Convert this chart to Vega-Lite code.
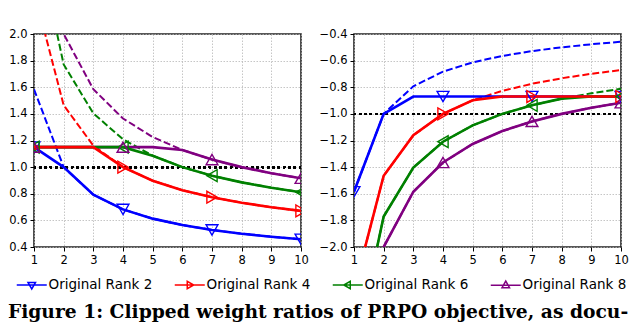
{
  "$schema": "https://vega.github.io/schema/vega-lite/v6.json",
  "padding": {"left": 7, "top": 27, "right": 5, "bottom": 0},
  "background": "white",
  "data": {"values": [
    {"p":"L","s":"Original Rank 2","x":1,"r":1.585,"c":1.15},
    {"p":"L","s":"Original Rank 2","x":2,"r":1.0,"c":1.0},
    {"p":"L","s":"Original Rank 2","x":3,"r":0.7925,"c":0.7925},
    {"p":"L","s":"Original Rank 2","x":4,"r":0.6826,"c":0.6826},
    {"p":"L","s":"Original Rank 2","x":5,"r":0.6131,"c":0.6131},
    {"p":"L","s":"Original Rank 2","x":6,"r":0.5646,"c":0.5646},
    {"p":"L","s":"Original Rank 2","x":7,"r":0.5283,"c":0.5283},
    {"p":"L","s":"Original Rank 2","x":8,"r":0.5,"c":0.5},
    {"p":"L","s":"Original Rank 2","x":9,"r":0.4771,"c":0.4771},
    {"p":"L","s":"Original Rank 2","x":10,"r":0.4582,"c":0.4582},
    {"p":"L","s":"Original Rank 8","x":1,"r":3.1699,"c":1.15},
    {"p":"L","s":"Original Rank 8","x":2,"r":2.0,"c":1.15},
    {"p":"L","s":"Original Rank 8","x":3,"r":1.585,"c":1.15},
    {"p":"L","s":"Original Rank 8","x":4,"r":1.3652,"c":1.15},
    {"p":"L","s":"Original Rank 8","x":5,"r":1.2263,"c":1.15},
    {"p":"L","s":"Original Rank 8","x":6,"r":1.1292,"c":1.1292},
    {"p":"L","s":"Original Rank 8","x":7,"r":1.0566,"c":1.0566},
    {"p":"L","s":"Original Rank 8","x":8,"r":1.0,"c":1.0},
    {"p":"L","s":"Original Rank 8","x":9,"r":0.9542,"c":0.9542},
    {"p":"L","s":"Original Rank 8","x":10,"r":0.9163,"c":0.9163},
    {"p":"L","s":"Original Rank 6","x":1,"r":2.8074,"c":1.15},
    {"p":"L","s":"Original Rank 6","x":2,"r":1.7713,"c":1.15},
    {"p":"L","s":"Original Rank 6","x":3,"r":1.4037,"c":1.15},
    {"p":"L","s":"Original Rank 6","x":4,"r":1.2091,"c":1.15},
    {"p":"L","s":"Original Rank 6","x":5,"r":1.086,"c":1.086},
    {"p":"L","s":"Original Rank 6","x":6,"r":1.0,"c":1.0},
    {"p":"L","s":"Original Rank 6","x":7,"r":0.9358,"c":0.9358},
    {"p":"L","s":"Original Rank 6","x":8,"r":0.8856,"c":0.8856},
    {"p":"L","s":"Original Rank 6","x":9,"r":0.8451,"c":0.8451},
    {"p":"L","s":"Original Rank 6","x":10,"r":0.8115,"c":0.8115},
    {"p":"L","s":"Original Rank 4","x":1,"r":2.3219,"c":1.15},
    {"p":"L","s":"Original Rank 4","x":2,"r":1.465,"c":1.15},
    {"p":"L","s":"Original Rank 4","x":3,"r":1.161,"c":1.15},
    {"p":"L","s":"Original Rank 4","x":4,"r":1.0,"c":1.0},
    {"p":"L","s":"Original Rank 4","x":5,"r":0.8982,"c":0.8982},
    {"p":"L","s":"Original Rank 4","x":6,"r":0.8271,"c":0.8271},
    {"p":"L","s":"Original Rank 4","x":7,"r":0.774,"c":0.774},
    {"p":"L","s":"Original Rank 4","x":8,"r":0.7325,"c":0.7325},
    {"p":"L","s":"Original Rank 4","x":9,"r":0.699,"c":0.699},
    {"p":"L","s":"Original Rank 4","x":10,"r":0.6712,"c":0.6712},
    {"p":"R","s":"Original Rank 2","x":1,"r":-1.585,"c":-1.585},
    {"p":"R","s":"Original Rank 2","x":2,"r":-1.0,"c":-1.0},
    {"p":"R","s":"Original Rank 2","x":3,"r":-0.7925,"c":-0.8696},
    {"p":"R","s":"Original Rank 2","x":4,"r":-0.6826,"c":-0.8696},
    {"p":"R","s":"Original Rank 2","x":5,"r":-0.6131,"c":-0.8696},
    {"p":"R","s":"Original Rank 2","x":6,"r":-0.5646,"c":-0.8696},
    {"p":"R","s":"Original Rank 2","x":7,"r":-0.5283,"c":-0.8696},
    {"p":"R","s":"Original Rank 2","x":8,"r":-0.5,"c":-0.8696},
    {"p":"R","s":"Original Rank 2","x":9,"r":-0.4771,"c":-0.8696},
    {"p":"R","s":"Original Rank 2","x":10,"r":-0.4582,"c":-0.8696},
    {"p":"R","s":"Original Rank 8","x":1,"r":-3.1699,"c":-3.1699},
    {"p":"R","s":"Original Rank 8","x":2,"r":-2.0,"c":-2.0},
    {"p":"R","s":"Original Rank 8","x":3,"r":-1.585,"c":-1.585},
    {"p":"R","s":"Original Rank 8","x":4,"r":-1.3652,"c":-1.3652},
    {"p":"R","s":"Original Rank 8","x":5,"r":-1.2263,"c":-1.2263},
    {"p":"R","s":"Original Rank 8","x":6,"r":-1.1292,"c":-1.1292},
    {"p":"R","s":"Original Rank 8","x":7,"r":-1.0566,"c":-1.0566},
    {"p":"R","s":"Original Rank 8","x":8,"r":-1.0,"c":-1.0},
    {"p":"R","s":"Original Rank 8","x":9,"r":-0.9542,"c":-0.9542},
    {"p":"R","s":"Original Rank 8","x":10,"r":-0.9163,"c":-0.9163},
    {"p":"R","s":"Original Rank 6","x":1,"r":-2.8074,"c":-2.8074},
    {"p":"R","s":"Original Rank 6","x":2,"r":-1.7713,"c":-1.7713},
    {"p":"R","s":"Original Rank 6","x":3,"r":-1.4037,"c":-1.4037},
    {"p":"R","s":"Original Rank 6","x":4,"r":-1.2091,"c":-1.2091},
    {"p":"R","s":"Original Rank 6","x":5,"r":-1.086,"c":-1.086},
    {"p":"R","s":"Original Rank 6","x":6,"r":-1.0,"c":-1.0},
    {"p":"R","s":"Original Rank 6","x":7,"r":-0.9358,"c":-0.9358},
    {"p":"R","s":"Original Rank 6","x":8,"r":-0.8856,"c":-0.8856},
    {"p":"R","s":"Original Rank 6","x":9,"r":-0.8451,"c":-0.8696},
    {"p":"R","s":"Original Rank 6","x":10,"r":-0.8115,"c":-0.8696},
    {"p":"R","s":"Original Rank 4","x":1,"r":-2.3219,"c":-2.3219},
    {"p":"R","s":"Original Rank 4","x":2,"r":-1.465,"c":-1.465},
    {"p":"R","s":"Original Rank 4","x":3,"r":-1.161,"c":-1.161},
    {"p":"R","s":"Original Rank 4","x":4,"r":-1.0,"c":-1.0},
    {"p":"R","s":"Original Rank 4","x":5,"r":-0.8982,"c":-0.8982},
    {"p":"R","s":"Original Rank 4","x":6,"r":-0.8271,"c":-0.8696},
    {"p":"R","s":"Original Rank 4","x":7,"r":-0.774,"c":-0.8696},
    {"p":"R","s":"Original Rank 4","x":8,"r":-0.7325,"c":-0.8696},
    {"p":"R","s":"Original Rank 4","x":9,"r":-0.699,"c":-0.8696},
    {"p":"R","s":"Original Rank 4","x":10,"r":-0.6712,"c":-0.8696}
  ]},
  "spacing": 8,
  "resolve": {"scale": {"color": "shared"}},
  "title": {"text": "Figure 1: Clipped weight ratios of PRPO objective, as docu-", "orient": "bottom", "anchor": "start", "frame": "bounds", "font": "DejaVu Serif", "fontSize": 18.7, "fontWeight": "bold", "color": "black", "offset": 11},
  "hconcat": [
    {
      "width": 267, "height": 213,
      "transform": [{"filter": "datum.p == 'L'"}],
      "layer": [
        {"mark": {"type": "rule", "strokeDash": [2, 3.3], "strokeWidth": 2, "color": "black"},
         "encoding": {"y": {"datum": 1, "type": "quantitative", "scale": {"domain": [0.4, 2.0], "nice": false, "zero": false}, "axis": {"title": null, "values": [0.4,0.6,0.8,1.0,1.2,1.4,1.6,1.8,2.0], "format": ".1f", "grid": true, "labelOverlap": false, "labelFlush": false}}}},
        {
          "encoding": {
            "x": {"field": "x", "type": "quantitative", "scale": {"domain": [1, 10], "nice": false}, "axis": {"title": null, "values": [1,2,3,4,5,6,7,8,9,10], "grid": true, "labelOverlap": false, "labelFlush": false}},
            "y": {"field": "c", "type": "quantitative", "axis": {"title": null, "values": [0.4,0.6,0.8,1.0,1.2,1.4,1.6,1.8,2.0], "format": ".1f", "grid": true, "labelOverlap": false, "labelFlush": false}},
            "color": {"field": "s", "type": "nominal", "scale": {"domain": ["Original Rank 2","Original Rank 4","Original Rank 6","Original Rank 8"], "range": ["#0000ff","#ff0000","#008000","#800080"]},
              "legend": {"orient": "none", "legendX": -9, "legendY": 244, "direction": "horizontal", "columns": 4, "title": null,
                "labelFont": "DejaVu Sans", "labelFontSize": 13.5, "labelColor": "black", "labelOffset": 10, "columnPadding": 18,
                "symbolSize": 100, "symbolStrokeWidth": 1.5, "symbolFillColor": "transparent", "symbolDash": [],
                "encode": {"symbols": {"update": {
                  "shape": {"signal": "datum.value == 'Original Rank 2' ? 'M-3,0H3M-0.75,-0.5H0.75L0,0.8Z' : datum.value == 'Original Rank 4' ? 'M-3,0H3M-0.5,-0.75V0.75L0.8,0Z' : datum.value == 'Original Rank 6' ? 'M-3,0H3M0.5,-0.75V0.75L-0.8,0Z' : 'M-3,0H3M-0.75,0.5H0.75L0,-0.8Z'"}
                }}}}}
          },
          "layer": [
            {"mark": {"type": "line", "strokeDash": [7, 3], "strokeWidth": 2, "clip": true},
             "encoding": {"y": {"field": "r", "type": "quantitative", "axis": {"title": null, "values": [0.4,0.6,0.8,1.0,1.2,1.4,1.6,1.8,2.0], "format": ".1f", "grid": true, "labelOverlap": false, "labelFlush": false}}}},
            {"mark": {"type": "line", "strokeWidth": 2.6, "clip": true}},
            {"transform": [{"filter": {"field": "x", "oneOf": [1, 4, 7, 10]}}, {"filter": "datum.s == 'Original Rank 2'"}],
             "mark": {"type": "point", "shape": "triangle-down", "filled": false, "size": 140, "strokeWidth": 1.4, "opacity": 1, "clip": true}},
            {"transform": [{"filter": {"field": "x", "oneOf": [1, 4, 7, 10]}}, {"filter": "datum.s == 'Original Rank 4'"}],
             "mark": {"type": "point", "shape": "triangle-right", "filled": false, "size": 140, "strokeWidth": 1.4, "opacity": 1, "clip": true}},
            {"transform": [{"filter": {"field": "x", "oneOf": [1, 4, 7, 10]}}, {"filter": "datum.s == 'Original Rank 6'"}],
             "mark": {"type": "point", "shape": "triangle-left", "filled": false, "size": 140, "strokeWidth": 1.4, "opacity": 1, "clip": true}},
            {"transform": [{"filter": {"field": "x", "oneOf": [1, 4, 7, 10]}}, {"filter": "datum.s == 'Original Rank 8'"}],
             "mark": {"type": "point", "shape": "triangle-up", "filled": false, "size": 140, "strokeWidth": 1.4, "opacity": 1, "clip": true}}
          ]
        }
      ]
    },
    {
      "width": 267, "height": 213,
      "transform": [{"filter": "datum.p == 'R'"}],
      "layer": [
        {"mark": {"type": "rule", "strokeDash": [2, 3.3], "strokeWidth": 2, "color": "black"},
         "encoding": {"y": {"datum": -1, "type": "quantitative", "scale": {"domain": [-2.0, -0.4], "nice": false, "zero": false}, "axis": {"title": null, "values": [-2.0,-1.8,-1.6,-1.4,-1.2,-1.0,-0.8,-0.6,-0.4], "format": ".1f", "grid": true, "labelOverlap": false, "labelFlush": false}}}},
        {
          "encoding": {
            "x": {"field": "x", "type": "quantitative", "scale": {"domain": [1, 10], "nice": false}, "axis": {"title": null, "values": [1,2,3,4,5,6,7,8,9,10], "grid": true, "labelOverlap": false, "labelFlush": false}},
            "y": {"field": "c", "type": "quantitative", "axis": {"title": null, "values": [-2.0,-1.8,-1.6,-1.4,-1.2,-1.0,-0.8,-0.6,-0.4], "format": ".1f", "grid": true, "labelOverlap": false, "labelFlush": false}},
            "color": {"field": "s", "type": "nominal"}
          },
          "layer": [
            {"mark": {"type": "line", "strokeDash": [7, 3], "strokeWidth": 2, "clip": true},
             "encoding": {"y": {"field": "r", "type": "quantitative", "axis": {"title": null, "values": [-2.0,-1.8,-1.6,-1.4,-1.2,-1.0,-0.8,-0.6,-0.4], "format": ".1f", "grid": true, "labelOverlap": false, "labelFlush": false}}}},
            {"mark": {"type": "line", "strokeWidth": 2.6, "clip": true}},
            {"transform": [{"filter": {"field": "x", "oneOf": [1, 4, 7, 10]}}, {"filter": "datum.s == 'Original Rank 2'"}],
             "mark": {"type": "point", "shape": "triangle-down", "filled": false, "size": 140, "strokeWidth": 1.4, "opacity": 1, "clip": true}},
            {"transform": [{"filter": {"field": "x", "oneOf": [1, 4, 7, 10]}}, {"filter": "datum.s == 'Original Rank 4'"}],
             "mark": {"type": "point", "shape": "triangle-right", "filled": false, "size": 140, "strokeWidth": 1.4, "opacity": 1, "clip": true}},
            {"transform": [{"filter": {"field": "x", "oneOf": [1, 4, 7, 10]}}, {"filter": "datum.s == 'Original Rank 6'"}],
             "mark": {"type": "point", "shape": "triangle-left", "filled": false, "size": 140, "strokeWidth": 1.4, "opacity": 1, "clip": true}},
            {"transform": [{"filter": {"field": "x", "oneOf": [1, 4, 7, 10]}}, {"filter": "datum.s == 'Original Rank 8'"}],
             "mark": {"type": "point", "shape": "triangle-up", "filled": false, "size": 140, "strokeWidth": 1.4, "opacity": 1, "clip": true}}
          ]
        }
      ]
    }
  ],
  "config": {
    "view": {"stroke": "#222222", "strokeWidth": 1.6},
    "axis": {"labelFont": "DejaVu Sans", "labelFontSize": 11.5, "labelColor": "black", "tickColor": "black", "tickSize": 4, "tickWidth": 1, "domain": false, "gridColor": "#b8b8b8", "gridDash": [1.5, 1.5], "gridWidth": 0.8, "labelPadding": 3}
  }
}
